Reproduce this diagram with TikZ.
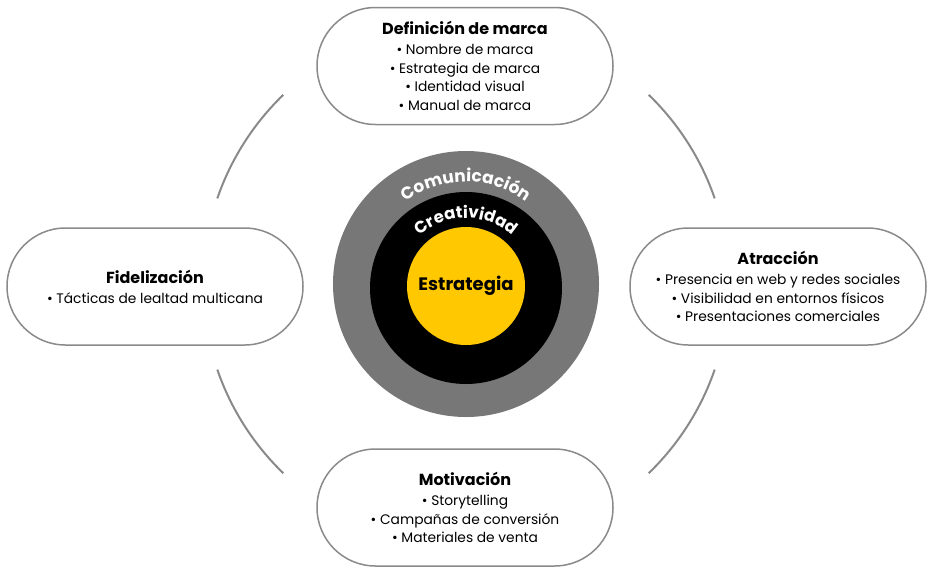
\documentclass[tikz,border=0pt]{standalone}
\usepackage{fontspec}
\setmainfont{Poppins}
\usetikzlibrary{shapes.misc,decorations.text}
\definecolor{ringgray}{HTML}{777777}
\definecolor{linegray}{HTML}{8A8A8A}
\definecolor{coreyellow}{HTML}{FFC800}
\newcommand{\stagetitle}[1]{{\bfseries\fontsize{16}{20}\selectfont #1}}
\tikzset{
  stage/.style={rounded rectangle, draw=linegray, line width=1.5pt, fill=white,
    minimum width=296pt, minimum height=117pt, inner sep=0pt, align=center,
    font=\fontsize{13.8}{18.5}\selectfont},
  link/.style={draw=linegray, line width=2pt},
}

\begin{document}
\begin{tikzpicture}[x=1pt,y=1pt]
\path[use as bounding box] (0,0) rectangle (932,-574);
\coordinate (hub) at (466,-284);

% arcs between the stages
\foreach \a in {19,134,199,314}
  \draw[link] (hub) ++(\a:263) arc[start angle=\a, delta angle=27, radius=263];

% rings
\node[circle,fill=ringgray,minimum size=266pt,inner sep=0pt] (comunicacion) at (hub) {};
\node[circle,fill=black,minimum size=192pt,inner sep=0pt] (creatividad) at (466,-288) {};
\node[circle,fill=coreyellow,minimum size=118pt,inner sep=0pt,
  font=\bfseries\fontsize{18}{18}\selectfont] (estrategia) at (466,-286) {Estrategia};
\path[decorate,decoration={text along path,text align=center,text color=white,
  text={|\bfseries\fontsize{17}{17}\selectfont\addfontfeature{LetterSpace=4}|Comunicación}}]
  (hub) ++(160:102) arc[start angle=160, end angle=20, radius=102];
\path[decorate,decoration={text along path,text align=center,text color=white,
  text={|\bfseries\fontsize{16.5}{16.5}\selectfont\addfontfeature{LetterSpace=4}|Creatividad}}]
  (creatividad.center) ++(160:70) arc[start angle=160, end angle=20, radius=70];

% stages
\node[stage] (marca) at (465,-66) {\stagetitle{Definición de marca}\\[1.5pt]
  • Nombre de marca\\ • Estrategia de marca\\ • Identidad visual\\ • Manual de marca};
\node[stage] (atraccion) at (778,-286.5) {\stagetitle{Atracción}\\[1.5pt]
  • Presencia en web y redes sociales\\ • Visibilidad en entornos físicos\\ • Presentaciones comerciales};
\node[stage] (motivacion) at (465,-507.5) {\stagetitle{Motivación}\\[1.5pt]
  • Storytelling\\ • Campañas de conversión\\ • Materiales de venta};
\node[stage] (fidelizacion) at (155,-286.5) {\stagetitle{Fidelización}\\[1.5pt]
  • Tácticas de lealtad multicana};
\end{tikzpicture}
\end{document}
